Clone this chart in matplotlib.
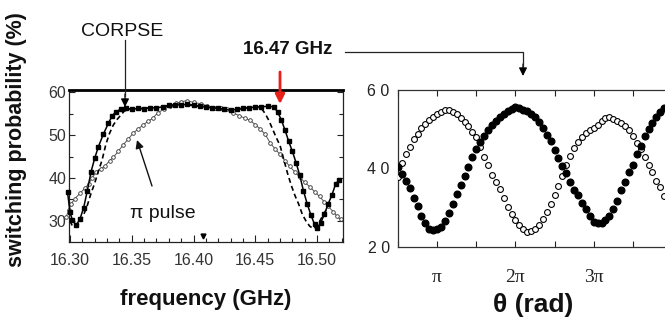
import numpy as np
import matplotlib
matplotlib.use("Agg")
import matplotlib.pyplot as plt
from matplotlib.lines import Line2D
from matplotlib.ticker import FixedLocator, MultipleLocator

plt.rcParams['font.family'] = ['Liberation Sans', 'DejaVu Sans']

# ---------------- data: left panel (frequency sweep) ----------------
corpse_f = [16.298, 16.300, 16.302, 16.305, 16.308, 16.311, 16.314, 16.317, 16.320, 16.323,
            16.327, 16.331, 16.334, 16.337, 16.341, 16.345, 16.350, 16.355, 16.360, 16.365,
            16.370, 16.375, 16.380, 16.385, 16.390, 16.395, 16.400, 16.405, 16.410, 16.415,
            16.420, 16.425, 16.430, 16.435, 16.440, 16.445, 16.450, 16.455, 16.460, 16.465,
            16.468, 16.471, 16.474, 16.477, 16.480, 16.483, 16.486, 16.489, 16.492, 16.495,
            16.498, 16.500, 16.503, 16.506, 16.509, 16.512, 16.515, 16.518]
corpse_p = [36.8, 32.0, 30.2, 29.0, 30.4, 33.0, 37.0, 41.4, 44.6, 47.3,
            50.2, 52.7, 54.4, 55.4, 56.0, 56.3, 56.0, 56.2, 56.1, 56.4,
            56.3, 56.6, 56.9, 57.1, 57.0, 57.2, 57.0, 56.7, 56.5, 56.3,
            56.2, 56.0, 55.8, 56.0, 56.2, 56.4, 56.5, 56.6, 56.7, 56.6,
            55.4, 53.6, 51.2, 48.6, 46.2, 43.6, 40.6, 37.0, 34.0, 31.4,
            29.2, 28.4, 29.6, 31.6, 34.0, 36.0, 38.6, 39.6]

dashed_f = [16.300, 16.302, 16.305, 16.308, 16.311, 16.314, 16.317, 16.320, 16.323, 16.326,
            16.329, 16.332, 16.335, 16.338, 16.341, 16.344, 16.348, 16.352, 16.360, 16.370,
            16.380, 16.390, 16.400, 16.410, 16.420, 16.430, 16.440, 16.448, 16.452, 16.455,
            16.458, 16.461, 16.464, 16.467, 16.470, 16.473, 16.476, 16.479, 16.482, 16.485,
            16.488, 16.491, 16.494, 16.497, 16.500, 16.503, 16.506, 16.509]
dashed_p = [30.0, 28.8, 28.6, 29.6, 31.4, 33.6, 36.4, 38.8, 41.6, 44.2,
            47.8, 50.4, 52.3, 53.6, 54.6, 55.6, 56.0, 56.2, 56.2, 56.4,
            56.8, 57.0, 56.9, 56.5, 56.2, 55.9, 56.2, 56.4, 56.5, 56.2,
            55.0, 53.4, 51.4, 49.4, 47.6, 44.4, 41.2, 38.4, 36.0, 34.0,
            31.6, 30.0, 28.8, 28.2, 28.8, 30.4, 32.0, 33.0]

pipulse_f = [16.297, 16.299, 16.301, 16.304, 16.308, 16.312, 16.315, 16.318, 16.321, 16.325,
             16.328, 16.332, 16.335, 16.339, 16.343, 16.347, 16.351, 16.355, 16.359, 16.363,
             16.367, 16.371, 16.376, 16.381, 16.386, 16.390, 16.395, 16.400, 16.406, 16.411,
             16.417, 16.422, 16.427, 16.432, 16.437, 16.442, 16.446, 16.450, 16.454, 16.458,
             16.462, 16.466, 16.470, 16.474, 16.478, 16.482, 16.486, 16.490, 16.494, 16.498,
             16.502, 16.506, 16.509, 16.513, 16.516, 16.519]
pipulse_p = [31.0, 32.6, 34.0, 35.2, 36.4, 37.6, 38.6, 40.0, 41.4, 42.2,
             42.7, 44.0, 44.8, 46.2, 47.7, 49.0, 50.4, 51.4, 52.3, 53.2,
             53.9, 55.2, 56.0, 56.8, 57.4, 57.8, 58.0, 57.6, 57.3, 56.8,
             56.4, 56.2, 56.1, 55.2, 54.5, 53.9, 53.4, 52.4, 51.4, 50.2,
             48.2, 46.8, 45.5, 44.0, 42.7, 41.4, 40.2, 39.0, 38.0, 36.8,
             35.7, 34.4, 33.4, 32.2, 31.1, 30.4]

marker_f = [16.4075]
marker_p = [26.4]

freq_ticks = [16.30, 16.35, 16.40, 16.45, 16.50]
freq_ticklabels = ["16.30", "16.35", "16.40", "16.45", "16.50"]
prob_ticks = [30, 40, 50, 60]

# ---------------- data: right panel (Rabi vs theta, theta in units of pi) ----------------
theta_filled = [0.50, 0.55, 0.60, 0.65, 0.70, 0.75, 0.80, 0.85, 0.90, 0.95,
                1.00, 1.05, 1.10, 1.15, 1.20, 1.25, 1.30, 1.35, 1.40, 1.45,
                1.50, 1.55, 1.60, 1.65, 1.70, 1.75, 1.80, 1.85, 1.90, 1.95,
                2.00, 2.05, 2.10, 2.15, 2.20, 2.25, 2.30, 2.35, 2.40, 2.45,
                2.50, 2.55, 2.60, 2.65, 2.70, 2.75, 2.80, 2.85, 2.90, 2.95,
                3.00, 3.05, 3.10, 3.15, 3.20, 3.25, 3.30, 3.35, 3.40, 3.45,
                3.50, 3.55, 3.60, 3.65, 3.70, 3.75, 3.80, 3.85, 3.90]
prob_filled = [40.4, 38.6, 36.8, 35.0, 32.6, 30.4, 28.0, 26.2, 24.6, 24.4,
               24.6, 25.2, 26.6, 28.7, 31.0, 33.4, 35.8, 38.2, 40.4, 43.0,
               45.0, 46.8, 48.2, 49.8, 51.0, 52.2, 53.2, 53.9, 54.6, 55.2,
               55.6, 55.5, 55.0, 54.6, 54.0, 53.0, 51.8, 50.4, 48.6, 47.0,
               44.8, 42.8, 40.6, 38.8, 36.6, 34.6, 33.2, 31.2, 29.6, 27.8,
               26.4, 26.0, 26.2, 26.8, 28.0, 29.6, 31.6, 34.4, 36.6, 39.0,
               41.0, 43.6, 45.8, 48.2, 50.0, 51.6, 53.0, 54.4, 55.4]

theta_open = [0.50, 0.55, 0.60, 0.65, 0.70, 0.75, 0.80, 0.85, 0.90, 0.95,
              1.00, 1.05, 1.10, 1.15, 1.20, 1.25, 1.30, 1.35, 1.40, 1.45,
              1.50, 1.55, 1.60, 1.65, 1.70, 1.75, 1.80, 1.85, 1.90, 1.95,
              2.00, 2.05, 2.10, 2.15, 2.20, 2.25, 2.30, 2.35, 2.40, 2.45,
              2.50, 2.55, 2.60, 2.65, 2.70, 2.75, 2.80, 2.85, 2.90, 2.95,
              3.00, 3.05, 3.10, 3.15, 3.20, 3.25, 3.30, 3.35, 3.40, 3.45,
              3.50, 3.55, 3.60, 3.65, 3.70, 3.75, 3.80, 3.85, 3.90]
prob_open = [37.8, 41.4, 43.6, 45.5, 47.4, 48.8, 50.2, 51.4, 52.4, 53.2,
             53.8, 54.4, 54.9, 55.0, 54.5, 53.8, 52.8, 51.8, 50.8, 49.4,
             48.0, 45.6, 43.0, 40.8, 38.4, 36.6, 34.8, 32.4, 30.2, 28.4,
             27.0, 25.6, 24.6, 23.8, 24.0, 24.6, 25.6, 27.2, 28.8, 31.0,
             33.2, 35.6, 38.2, 41.0, 43.2, 45.2, 46.8, 48.0, 49.0, 49.8,
             50.4, 51.2, 52.0, 52.8, 53.2, 52.6, 52.0, 51.6, 50.8, 49.8,
             48.4, 46.6, 45.0, 43.0, 41.0, 39.0, 36.8, 35.2, 33.0]

theta_ticks = [0.5, 1.0, 1.5, 2.0, 2.5, 3.0, 3.5, 4.0]
theta_ticklabels = ["", "π", "", "2π", "", "3π", "", ""]
rabi_ticks = [20, 40, 60]
rabi_ticklabels = ["2 0", "4 0", "6 0"]

# ---------------- figure ----------------
W, H = 665, 328
fig = plt.figure(figsize=(W / 100, H / 100), dpi=100)


def fx(px):
    return px / W


def fy(py):
    return 1 - py / H


# Left panel
ax1 = fig.add_axes([fx(69), fy(242), (343 - 69) / W, (242 - 90) / H])
ax1.plot(pipulse_f, pipulse_p, '-', color='#555555', lw=0.7, marker='o', ms=2.6,
         mfc='white', mec='#333333', mew=0.6, clip_on=False, zorder=2)
ax1.plot(dashed_f, dashed_p, '--', color='black', lw=1.2, dashes=(3, 2), clip_on=False, zorder=3)
ax1.plot(corpse_f, corpse_p, '-', color='black', lw=1.1, marker='s', ms=2.4,
         mfc='black', mec='black', clip_on=False, zorder=4)
ax1.plot(marker_f, marker_p, 'v', color='black', ms=3.5, zorder=5)
ax1.set_xlim(16.2992, 16.521)
ax1.set_ylim(25.1, 60.5)
ax1.set_xticks(freq_ticks)
ax1.set_xticklabels(freq_ticklabels)
ax1.xaxis.set_minor_locator(MultipleLocator(0.01))
ax1.set_yticks(prob_ticks)
ax1.yaxis.set_minor_locator(MultipleLocator(5))
ax1.tick_params(axis='both', which='both', direction='in', colors='#222222',
                labelcolor='#333333', labelsize=11.5, width=0.8)
ax1.tick_params(axis='x', which='major', length=5, pad=8)
ax1.tick_params(axis='x', which='minor', length=3)
ax1.tick_params(axis='y', which='major', length=4, pad=2, right=True)
ax1.tick_params(axis='y', which='minor', length=3, right=True)
for s in ['left', 'right', 'bottom']:
    ax1.spines[s].set_linewidth(0.9)
    ax1.spines[s].set_color('#222222')
ax1.spines['top'].set_linewidth(2.0)
ax1.spines['top'].set_color('black')

fig.text(fx(17), fy(140), "switching probability (%)", rotation=90, ha='center', va='center',
         fontsize=15.5, fontweight='bold', color='#111111')
fig.text(fx(206), fy(300), "frequency (GHz)", ha='center', va='center',
         fontsize=16, fontweight='bold', color='#111111')

# Right panel
ax2 = fig.add_axes([fx(398), fy(247), (672 - 398) / W, (247 - 90) / H])
ax2.plot(theta_open, prob_open, 'o', ms=4.2, mfc='white', mec='black', mew=0.8, zorder=3)
ax2.plot(theta_filled, prob_filled, 'o', ms=4.8, mfc='black', mec='black', zorder=4)
ax2.set_xlim(0.5, 4.0)
ax2.set_ylim(20, 60)
ax2.xaxis.set_major_locator(FixedLocator(theta_ticks))
ax2.set_xticklabels(theta_ticklabels, fontfamily='Liberation Serif', fontsize=14)
ax2.set_yticks(rabi_ticks)
ax2.set_yticklabels(rabi_ticklabels)
ax2.tick_params(axis='x', direction='in', length=4, top=True, pad=16, colors='#222222')
ax2.tick_params(axis='y', length=0, pad=6, labelsize=11.5, labelcolor='#222222')
for s in ax2.spines.values():
    s.set_linewidth(0.9)
    s.set_color('#333333')

fig.text(fx(533), fy(305), "θ (rad)", ha='center', va='center',
         fontsize=19, fontweight='bold', color='#111111')

# Annotations
fig.text(fx(122), fy(31), "CORPSE", ha='center', va='center', fontsize=14, color='#111111')
fig.add_artist(Line2D([fx(125), fx(125)], [fy(40), fy(96)], transform=fig.transFigure,
                      color='#222222', lw=0.9))
ax1.annotate("", xy=(fx(125), fy(107)), xycoords='figure fraction',
             xytext=(fx(125), fy(94)), textcoords='figure fraction',
             arrowprops=dict(arrowstyle='-|>', color='black', lw=0.9,
                             mutation_scale=12, shrinkA=0, shrinkB=0))

fig.text(fx(163), fy(213), "π pulse", ha='center', va='center', fontsize=14, color='#111111')
ax1.annotate("", xy=(fx(137), fy(140)), xycoords='figure fraction',
             xytext=(fx(152), fy(186)), textcoords='figure fraction',
             arrowprops=dict(arrowstyle='-|>', color='#111111', lw=1.0,
                             mutation_scale=12, shrinkA=0, shrinkB=0))

fig.text(fx(288), fy(50), "16.47 GHz", ha='center', va='center', fontsize=13.5,
         fontweight='bold', color='#111111')
ax1.annotate("", xy=(fx(280), fy(104)), xycoords='figure fraction',
             xytext=(fx(280), fy(72)), textcoords='figure fraction',
             arrowprops=dict(arrowstyle='-|>', color='#e8201a', lw=2.0,
                             mutation_scale=14, shrinkA=0, shrinkB=0))

fig.add_artist(Line2D([fx(345), fx(523), fx(523)], [fy(52), fy(52), fy(66)],
                      transform=fig.transFigure, color='#222222', lw=0.9))
ax1.annotate("", xy=(fx(523), fy(76)), xycoords='figure fraction',
             xytext=(fx(523), fy(64)), textcoords='figure fraction',
             arrowprops=dict(arrowstyle='-|>', color='black', lw=0.9,
                             mutation_scale=12, shrinkA=0, shrinkB=0))

fig.savefig("out.png", dpi=100)
